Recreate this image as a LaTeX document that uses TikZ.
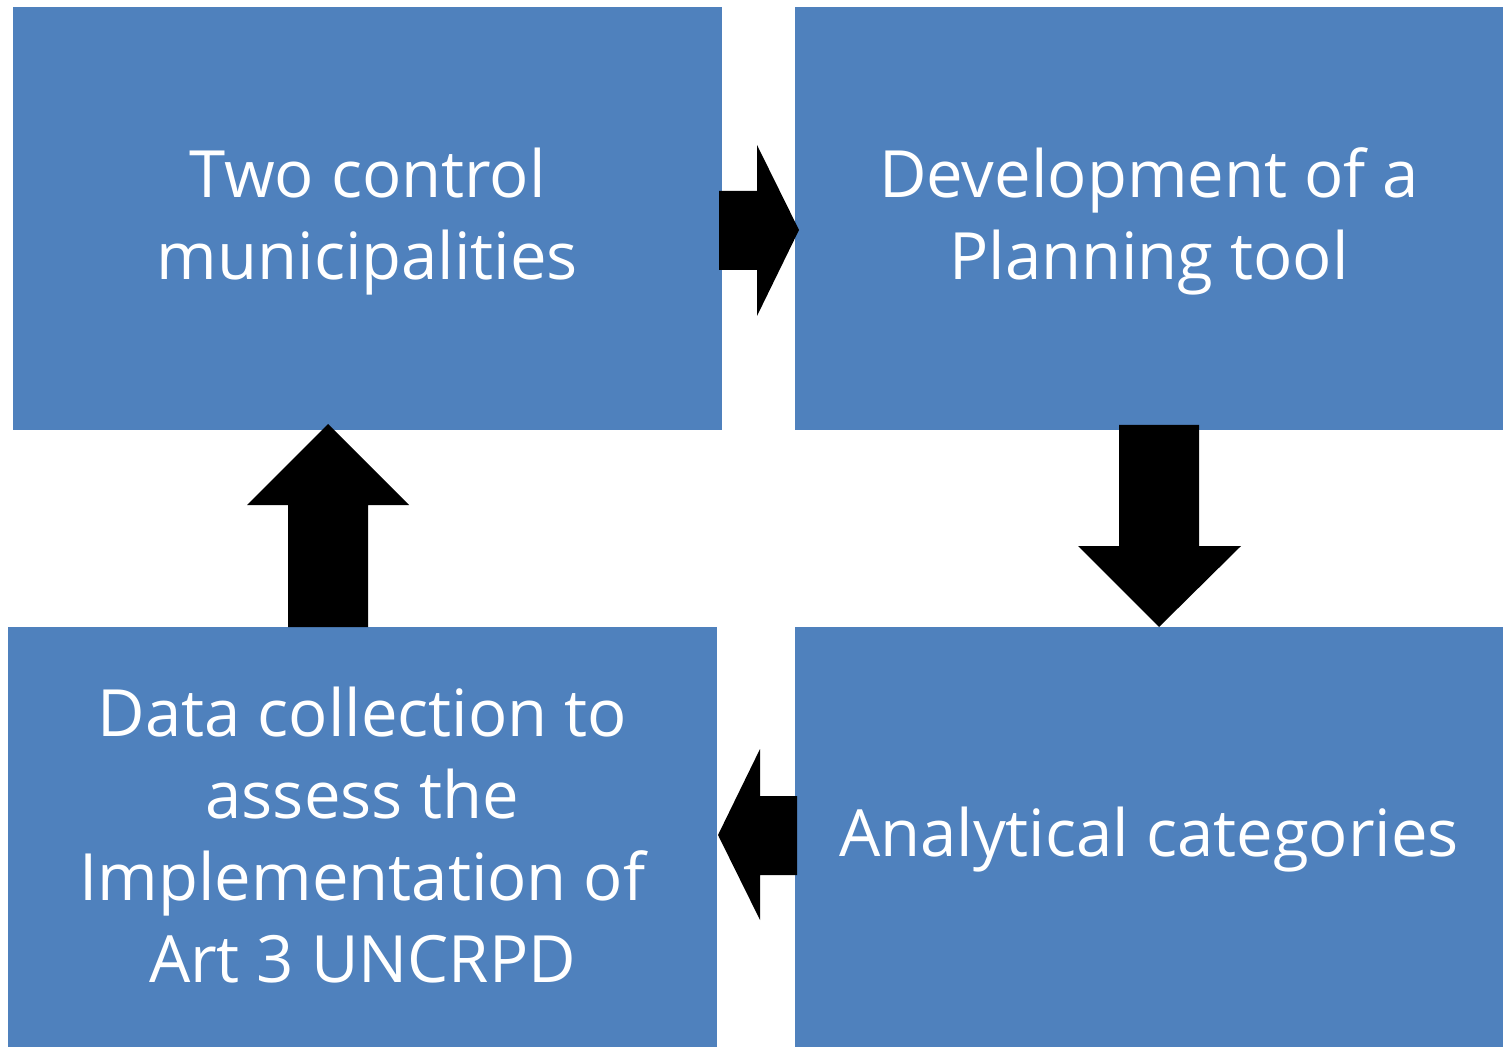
\documentclass[tikz,border=0pt]{standalone}
\usepackage{fontspec}
\setmainfont{Open Sans}
\definecolor{boxblue}{HTML}{4F81BD}
\begin{document}
\begin{tikzpicture}[x=0.5pt,y=-0.5pt,
  box/.style={fill=boxblue,draw=none},
  lbl/.style={text=white,align=center,font=\fontsize{32.6}{41}\selectfont},
  blockarrow/.style={fill=black,draw=none}]
\useasboundingbox (0,0) rectangle (1503,1047);
% boxes
\path[box] (13,7) rectangle (722,430);
\node[lbl] (b1) at (367.5,221.5) {Two control\\municipalities};
\path[box] (795,7) rectangle (1503,430);
\node[lbl] (b2) at (1149,221.5) {Development of a\\Planning tool};
\path[box] (795,627) rectangle (1503,1047);
\node[lbl] (b3) at (1149,840) {Analytical categories};
\path[box] (8,627) rectangle (717,1047);
\node[lbl] (b4) at (362.5,835.5) {Data collection to\\assess the\\Implementation of\\Art 3 UNCRPD};
% arrows
\path[blockarrow] (719,191) -- (757,191) -- (757,145) -- (799,230) -- (757,316) -- (757,270) -- (719,270) -- cycle;
\path[blockarrow] (1119,425) -- (1199,425) -- (1199,546) -- (1241,546) -- (1159,627) -- (1078,546) -- (1119,546) -- cycle;
\path[blockarrow] (797,796) -- (760,796) -- (760,749) -- (718,835) -- (760,920) -- (760,875) -- (797,875) -- cycle;
\path[blockarrow] (288,627) -- (368,627) -- (368,505) -- (409,505) -- (328,424) -- (247,505) -- (288,505) -- cycle;
\end{tikzpicture}
\end{document}
